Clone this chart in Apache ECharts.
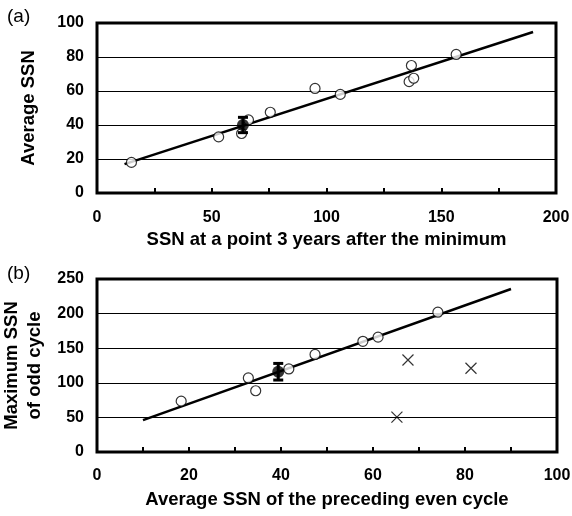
<!DOCTYPE html>
<html>
<head>
<meta charset="utf-8">
<script src="https://cdn.jsdelivr.net/npm/echarts@6/dist/echarts.min.js"></script>
<style>
  html, body { margin: 0; padding: 0; background: #fff; }
  #chart { width: 572px; height: 516px; }
</style>
</head>
<body>
<div id="chart"></div>
<script>
// panel (a): SSN 3 years after minimum vs average SSN
const aOpen = [[15, 18], [53, 33], [63, 35], [66, 43], [75.5, 47.5], [95, 61.5], [106, 58],
  [137, 75], [136, 65.5], [138, 67.5], [156.5, 81.5]]
const aPred = [[63.6, 40]]
const aErr = [[63.6, 35.5, 44.5]]
const aFit = [[12, 17], [190, 94.7]]

// panel (b): average SSN of even cycle vs max SSN of next odd cycle
const bOpen = [[18.3, 73.5], [32.9, 107], [34.5, 88.5], [41.7, 120], [47.4, 141],
  [57.8, 160], [61.1, 166], [74.1, 202]]
const bCross = [[67.6, 133], [81.3, 121], [65.2, 50.5]]
const bPred = [[39.4, 116]]
const bErr = [[39.4, 104, 128]]
const bFit = [[10, 46], [90, 235.5]]

const font = 'Liberation Sans, Arial, sans-serif'
const labelStyle = { color: '#000', fontFamily: font, fontWeight: 'bold', fontSize: 16 }
const nameStyle = { color: '#000', fontFamily: font, fontWeight: 'bold', fontSize: 18.5 }

const chart = echarts.init(document.getElementById('chart'))

const errBar = (gi, data) => ({
  type: 'custom',
  xAxisIndex: gi,
  yAxisIndex: gi,
  z: 5,
  data: data,
  renderItem: (params, api) => {
    const lo = api.coord([api.value(0), api.value(1)])
    const hi = api.coord([api.value(0), api.value(2)])
    const st = { stroke: '#000', lineWidth: 3 }
    return {
      type: 'group',
      children: [
        { type: 'line', shape: { x1: lo[0], y1: lo[1], x2: hi[0], y2: hi[1] }, style: st },
        { type: 'line', shape: { x1: lo[0] - 5, y1: lo[1], x2: lo[0] + 5, y2: lo[1] }, style: st },
        { type: 'line', shape: { x1: hi[0] - 5, y1: hi[1], x2: hi[0] + 5, y2: hi[1] }, style: st }
      ]
    }
  }
})

const xAx = (gi, max, step, labelStep, name, margin, gap) => ({
  gridIndex: gi,
  type: 'value',
  min: 0,
  max: max,
  interval: step,
  name: name,
  nameLocation: 'middle',
  nameGap: gap,
  nameTextStyle: nameStyle,
  axisLine: { show: false },
  axisTick: { show: true, inside: true, length: 5, lineStyle: { color: '#000', width: 2 } },
  axisLabel: Object.assign({ margin: margin, formatter: v => (v % labelStep === 0 ? v : '') }, labelStyle),
  splitLine: { show: false }
})

const yAx = (gi, max, step, name, gap) => ({
  gridIndex: gi,
  type: 'value',
  min: 0,
  max: max,
  interval: step,
  name: name,
  nameLocation: 'middle',
  nameGap: gap,
  nameTextStyle: Object.assign({ lineHeight: 23 }, nameStyle),
  axisLine: { show: false },
  axisTick: { show: false },
  axisLabel: Object.assign({ margin: 13 }, labelStyle),
  splitLine: { show: true, lineStyle: { color: '#000', width: 1 } }
})

const openCircles = (gi, data) => ({
  type: 'scatter', xAxisIndex: gi, yAxisIndex: gi, z: 4, data: data,
  symbol: 'circle', symbolSize: 10,
  itemStyle: { color: '#fff', borderColor: '#000', borderWidth: 1.2 }
})

const fitLine = (gi, data) => ({
  type: 'line', xAxisIndex: gi, yAxisIndex: gi, z: 3, data: data,
  showSymbol: false, lineStyle: { color: '#000', width: 2.5 }
})

const filled = (gi, data) => ({
  type: 'scatter', xAxisIndex: gi, yAxisIndex: gi, z: 6, data: data,
  symbol: 'circle', symbolSize: 12, itemStyle: { color: '#000' }
})

chart.setOption({
  animation: false,
  backgroundColor: '#fff',
  grid: [
    { left: 97, top: 23, width: 459, height: 170, show: true, borderColor: '#000', borderWidth: 3, backgroundColor: 'transparent', containLabel: false, outerBoundsMode: 'none' },
    { left: 97, top: 279, width: 460, height: 173, show: true, borderColor: '#000', borderWidth: 3, backgroundColor: 'transparent', containLabel: false, outerBoundsMode: 'none' }
  ],
  graphic: [
    { type: 'text', left: 7, top: 7, style: { text: '(a)', font: '19px ' + font, fill: '#000' } },
    { type: 'text', left: 7, top: 264, style: { text: '(b)', font: '19px ' + font, fill: '#000' } }
  ],
  xAxis: [
    xAx(0, 200, 25, 50, 'SSN at a point 3 years after the minimum', 17, 37),
    xAx(1, 100, 10, 20, 'Average SSN of the preceding even cycle', 16, 38)
  ],
  yAxis: [
    yAx(0, 100, 20, 'Average SSN', 57),
    yAx(1, 250, 50, 'Maximum SSN\nof odd cycle', 47)
  ],
  series: [
    fitLine(0, aFit),
    openCircles(0, aOpen),
    errBar(0, aErr),
    filled(0, aPred),
    fitLine(1, bFit),
    openCircles(1, bOpen),
    {
      type: 'scatter', xAxisIndex: 1, yAxisIndex: 1, z: 4, data: bCross,
      symbol: 'path://M0,0L10,10M10,0L0,10', symbolSize: 11,
      itemStyle: { color: 'none', borderColor: '#000', borderWidth: 1.2 }
    },
    errBar(1, bErr),
    filled(1, bPred)
  ]
})
</script>
</body>
</html>
